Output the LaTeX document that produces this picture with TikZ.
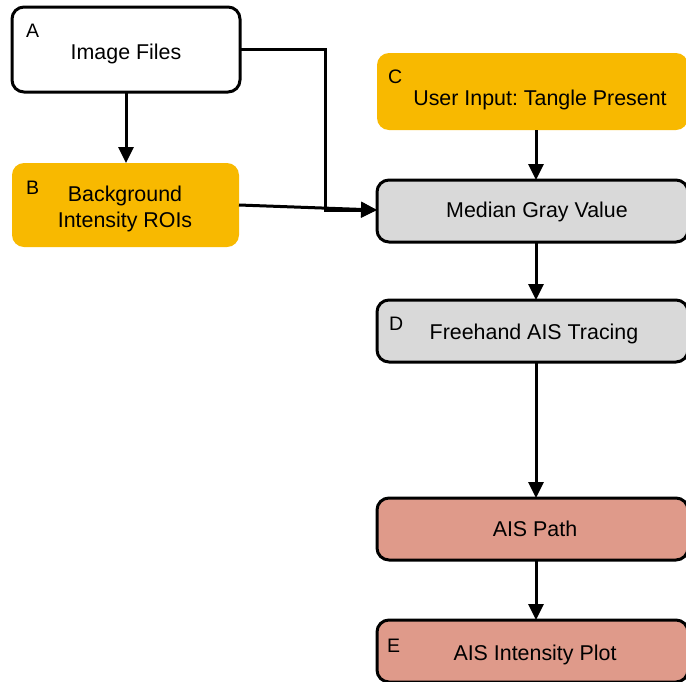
\documentclass[tikz,border=0pt]{standalone}
\usepackage{fontspec}
\setmainfont{Liberation Sans}
\usetikzlibrary{arrows.meta}
\frenchspacing

\definecolor{stepamber}{HTML}{F8B900}
\definecolor{stepgray}{HTML}{D9D9D9}
\definecolor{stepsalmon}{HTML}{DF9A8A}

\tikzset{
  box/.style={rounded corners=12pt, minimum width=#1, inner sep=0pt, outer sep=0pt},
  lined/.style={draw=black, line width=3pt},
  maintext/.style={inner sep=0pt, anchor=base, font=\fontsize{21.4}{26}\selectfont},
  tag/.style={inner sep=0pt, anchor=base west, font=\fontsize{19.5}{22}\selectfont},
  flow/.style={line width=3pt, -{Triangle[length=16pt,width=15pt]}},
}

\begin{document}
\begin{tikzpicture}[x=1pt, y=-1pt]
  \useasboundingbox (0,0) rectangle (686,681);
  \clip (0,0) rectangle (686,681);

  % left column
  \node[box=228pt, lined, fill=white, minimum height=85pt] (boxA) at (126,49.5) {};
  \node[box=227pt, fill=stepamber, minimum height=84pt] (boxB) at (125.5,205) {};

  % right column
  \node[box=311pt, fill=stepamber, minimum height=77pt] (boxC) at (532.5,91.5) {};
  \node[box=311pt, lined, fill=stepgray, minimum height=62pt] (boxM) at (532.5,211) {};
  \node[box=311pt, lined, fill=stepgray, minimum height=62pt] (boxD) at (532.5,331) {};
  \node[box=311pt, lined, fill=stepsalmon, minimum height=62pt] (boxP) at (532.5,529) {};
  \node[box=311pt, lined, fill=stepsalmon, minimum height=62pt] (boxE) at (532.5,651) {};

  % texts
  \node[tag] (tagA) at (26,37) {A};
  \node[maintext] (txtA) at (126,59) {Image Files};
  \node[tag] (tagB) at (26,194) {B};
  \node[maintext, anchor=center, align=center] (txtB) at (125,208.5) {Background\\Intensity ROIs};
  \node[tag] (tagC) at (388,83) {C};
  \node[maintext] (txtC) at (540,105) {User Input: Tangle Present};
  \node[maintext] (txtM) at (537,217) {Median Gray Value};
  \node[tag] (tagD) at (389,330) {D};
  \node[maintext] (txtD) at (534,339) {Freehand AIS Tracing};
  \node[maintext] (txtP) at (535,536) {AIS Path};
  \node[tag] (tagE) at (387,652) {E};
  \node[maintext] (txtE) at (535,660) {AIS Intensity Plot};

  % connectors
  \coordinate (col) at (536,0);
  \coordinate (bend) at (325,210);
  \draw[flow] (boxA.south) -- (boxA.south |- boxB.north);
  \draw[flow] (boxA.east) -| (bend) -- (boxM.west |- bend);
  \draw[flow] (boxB.east) -- (boxM.west |- bend);
  \draw[flow] (boxC.south -| col) -- (boxM.north -| col);
  \draw[flow] (boxM.south -| col) -- (boxD.north -| col);
  \draw[flow] (boxD.south -| col) -- (boxP.north -| col);
  \draw[flow] (boxP.south -| col) -- (boxE.north -| col);
\end{tikzpicture}
\end{document}
